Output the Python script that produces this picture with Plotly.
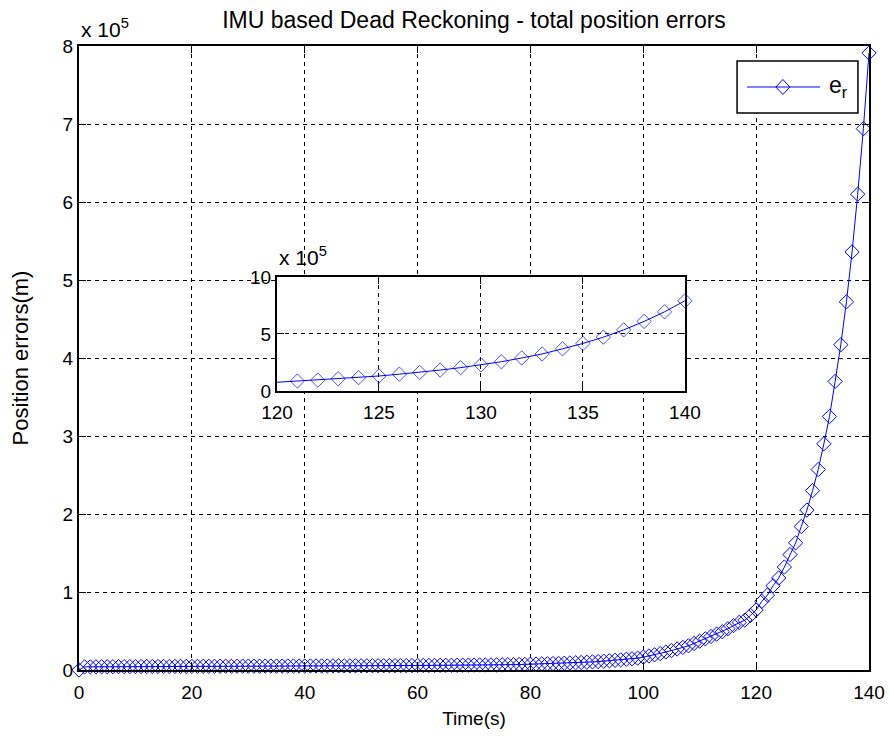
import plotly.graph_objects as go

# Time (s)
time_s = list(range(0, 141))

# Total position error, in units of 10^5 m
err_1e5 = [
    0.000,
    0.040, 0.041, 0.041, 0.042, 0.042, 0.042, 0.043, 0.043, 0.043, 0.044,
    0.044, 0.044, 0.045, 0.045, 0.045, 0.045, 0.046, 0.046, 0.046, 0.046,
    0.047, 0.047, 0.047, 0.047, 0.048, 0.048, 0.048, 0.048, 0.049, 0.049,
    0.049, 0.049, 0.050, 0.050, 0.050, 0.050, 0.051, 0.051, 0.051, 0.051,
    0.052, 0.052, 0.052, 0.052, 0.053, 0.053, 0.053, 0.053, 0.054, 0.054,
    0.054, 0.055, 0.055, 0.055, 0.056, 0.056, 0.056, 0.057, 0.057, 0.058,
    0.058, 0.059, 0.059, 0.060, 0.060, 0.061, 0.061, 0.062, 0.062, 0.063,
    0.064, 0.064, 0.065, 0.066, 0.067, 0.068, 0.069, 0.070, 0.072, 0.074,
    0.076, 0.078, 0.080, 0.082, 0.084, 0.087, 0.090, 0.093, 0.096, 0.100,
    0.104, 0.108, 0.113, 0.118, 0.124, 0.130, 0.137, 0.144, 0.152, 0.165,
    0.180, 0.195, 0.210, 0.230, 0.250, 0.270, 0.290, 0.310, 0.340, 0.370,
    0.400, 0.430, 0.460, 0.490, 0.530, 0.570, 0.610, 0.640, 0.700, 0.770,
    0.880, 0.960, 1.080, 1.180, 1.320, 1.480, 1.630, 1.840, 2.050, 2.300,
    2.570, 2.900, 3.250, 3.700, 4.170, 4.720, 5.360, 6.100, 6.940, 7.910,
]

# Inset window
inset_start = 120

main_xticks = [0, 20, 40, 60, 80, 100, 120, 140]
main_yticks = [0, 1, 2, 3, 4, 5, 6, 7, 8]
inset_xticks = [120, 125, 130, 135, 140]
inset_yticks = [0, 5, 10]

title_text = "IMU based Dead Reckoning - total position errors"
x_label = "Time(s)"
y_label = "Position errors(m)"
legend_label = "e<sub>r</sub>"
exp_label = "x 10<sup>5</sup>"

FONT = "Liberation Sans, Arial, Helvetica, sans-serif"
BLUE = "#0000ff"
MSIZE = 11

inset_x = [t for t in time_s if t >= inset_start]
inset_y = [v for t, v in zip(time_s, err_1e5) if t >= inset_start]

fig = go.Figure()

fig.add_trace(go.Scatter(
    x=time_s, y=err_1e5, mode="lines+markers", name=legend_label, showlegend=False,
    line=dict(color=BLUE, width=1),
    marker=dict(symbol="diamond-open", size=MSIZE, color=BLUE, line=dict(width=1, color=BLUE)),
    cliponaxis=False, xaxis="x", yaxis="y",
))

fig.add_trace(go.Scatter(
    x=inset_x, y=inset_y, mode="lines+markers", showlegend=False,
    line=dict(color=BLUE, width=1),
    marker=dict(symbol="diamond-open", size=[0] + [MSIZE] * (len(inset_x) - 1),
                color=BLUE, line=dict(width=1, color=BLUE)),
    cliponaxis=False, xaxis="x2", yaxis="y2",
))

axis_common = dict(
    showline=True, linecolor="black", linewidth=2, mirror="allticks",
    ticks="inside", ticklen=7, tickwidth=1, tickcolor="black",
    showgrid=True, gridcolor="black", gridwidth=1, griddash="4px,4px",
    zeroline=False, automargin=False,
    tickfont=dict(family=FONT, size=19, color="black"),
)

# legend box geometry (paper fractions)
LX0, LX1, LY0, LY1 = 0.833, 0.986, 0.8926, 0.976
LYM = (LY0 + LY1) / 2

fig.update_layout(
    width=889, height=746, autosize=False,
    margin=dict(l=79, r=20, t=46, b=76, autoexpand=False),
    paper_bgcolor="white", plot_bgcolor="white",
    font=dict(family=FONT, size=19, color="black"),
    showlegend=False,
    title=dict(text=title_text, x=0.5, xref="paper", xanchor="center",
               y=1 - 20 / 746, yanchor="middle",
               font=dict(family=FONT, size=23, color="black")),
    xaxis=dict(domain=[0, 1], range=[0, 140], tickmode="array", tickvals=main_xticks,
               ticklabelstandoff=4,
               title=dict(text=x_label, font=dict(family=FONT, size=19), standoff=10),
               anchor="y", **axis_common),
    yaxis=dict(domain=[0, 1], range=[0, 8], tickmode="array", tickvals=main_yticks,
               title=dict(text=y_label, font=dict(family=FONT, size=22), standoff=28),
               anchor="x", **axis_common),
    xaxis2=dict(domain=[0.2506, 0.767], range=[120, 140], tickmode="array",
                tickvals=inset_xticks, anchor="y2", ticklabelstandoff=3, **axis_common),
    yaxis2=dict(domain=[0.447, 0.630], range=[0, 10], tickmode="array",
                tickvals=inset_yticks, anchor="x2", **axis_common),
    shapes=[
        dict(type="rect", xref="paper", yref="paper", x0=LX0, x1=LX1, y0=LY0, y1=LY1,
             line=dict(color="black", width=1.5), fillcolor="white", layer="above"),
        dict(type="line", xref="paper", yref="paper", x0=0.8456, x1=0.938, y0=LYM, y1=LYM,
             line=dict(color=BLUE, width=1), layer="above"),
        dict(type="path", xref="paper", yref="paper", xsizemode="pixel", ysizemode="pixel",
             xanchor=0.891, yanchor=LYM, path="M-7,0 L0,-7.5 L7,0 L0,7.5 Z",
             line=dict(color=BLUE, width=1), layer="above"),
    ],
    annotations=[
        dict(text=exp_label, xref="paper", yref="paper", x=0.0, y=1.0,
             xanchor="left", yanchor="bottom", showarrow=False, yshift=3,
             font=dict(family=FONT, size=21)),
        dict(text=exp_label, xref="paper", yref="paper", x=0.2506, y=0.630,
             xanchor="left", yanchor="bottom", showarrow=False, yshift=6,
             font=dict(family=FONT, size=21)),
        dict(text=legend_label, xref="paper", yref="paper", x=0.947, y=LYM,
             xanchor="left", yanchor="middle", showarrow=False,
             font=dict(family=FONT, size=23)),
    ],
)

fig.write_html("out.html", config={"displayModeBar": False},
               post_script="document.body.style.margin='0px';")
